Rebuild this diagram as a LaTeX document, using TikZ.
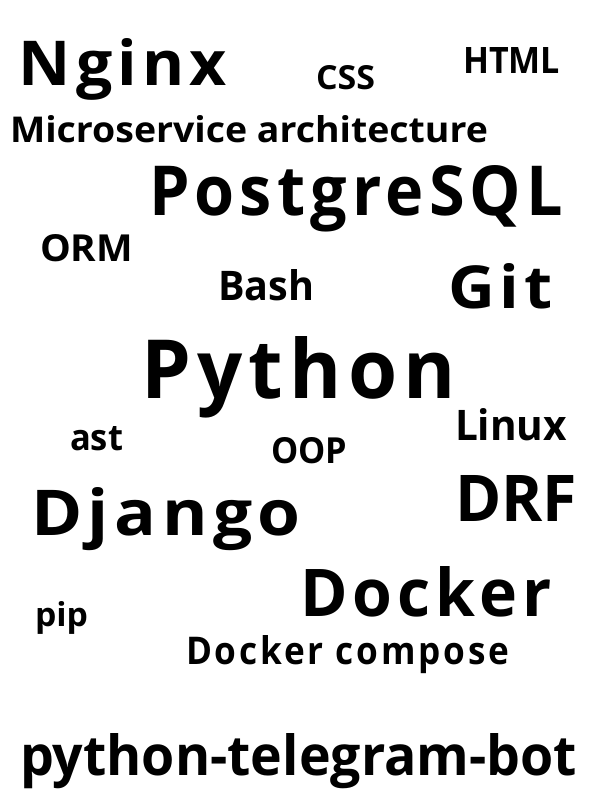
\documentclass[tikz,border=0pt]{standalone}
\usepackage{fontspec}
\setmainfont{Open Sans}[BoldFont={* Bold}]
\newfontfamily\wcfont{Open Sans Bold}
\newfontfamily\wcspaced{Open Sans Bold}[LetterSpace=8]
\tikzset{word/.style={anchor=base west, inner sep=0pt, outer sep=0pt, font=\wcfont}}
\newcommand{\fitword}[3]{\resizebox{#1pt}{#2pt}{#3}}
\begin{document}
\begin{tikzpicture}[x=1pt,y=-1pt]
\useasboundingbox (0,0) rectangle (600,800);
\node[word] (nginx) at (19,85) {\fitword{208}{47}{\wcspaced Nginx}};
\node[word] (css) at (316,89) {\fitword{59}{24}{CSS}};
\node[word] (html) at (463,73) {\fitword{97}{26}{HTML}};
\node[word] (micro) at (10,142) {\fitword{478}{27}{Microservice architecture}};
\node[word] (pg) at (149,215) {\fitword{414}{50}{\wcspaced PostgreSQL}};
\node[word] (orm) at (40,261) {\fitword{93}{27}{ORM}};
\node[word] (bash) at (218,300) {\fitword{96}{31}{Bash}};
\node[word] (git) at (448,308) {\fitword{105}{45}{\wcspaced Git}};
\node[word] (python) at (141,398) {\fitword{315}{62}{\wcspaced Python}};
\node[word] (ast) at (70,450) {\fitword{53}{24}{ast}};
\node[word] (oop) at (271,463) {\fitword{76}{26}{OOP}};
\node[word] (linux) at (455,440) {\fitword{112}{32}{Linux}};
\node[word] (django) at (31,535) {\fitword{270}{48}{\wcspaced Django}};
\node[word] (drf) at (455,521) {\fitword{122}{46}{DRF}};
\node[word] (docker) at (300,616) {\fitword{252}{50}{\wcspaced Docker}};
\node[word] (pip) at (35,626) {\fitword{53}{25}{pip}};
\node[word] (compose) at (186,664) {\fitword{323}{29}{\wcspaced Docker compose}};
\node[word] (ptb) at (20,775) {\fitword{557}{42}{python-telegram-bot}};
\end{tikzpicture}
\end{document}
